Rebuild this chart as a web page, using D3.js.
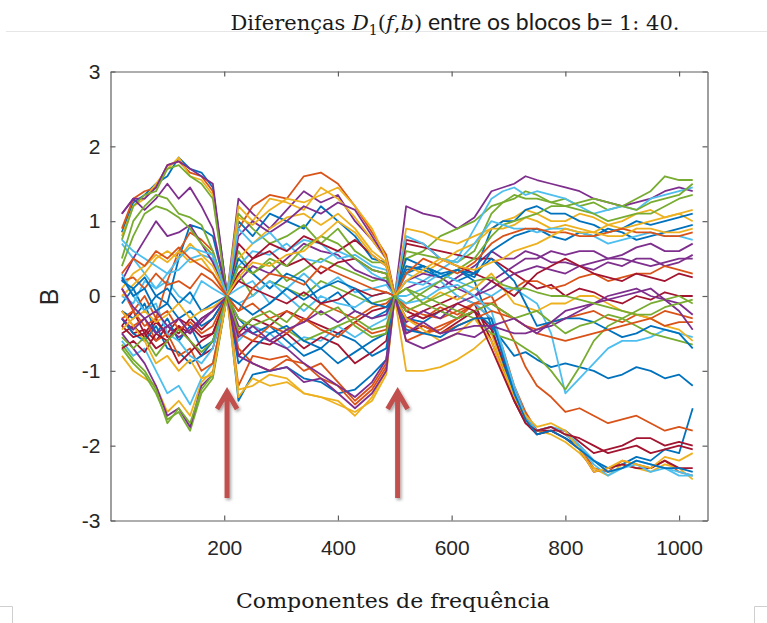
<!DOCTYPE html>
<meta charset="utf-8">
<style>
  body { margin: 0; background: #fff; }
  svg { display: block; }
  .axis text { font: 21px "Liberation Sans", Arial, sans-serif; fill: #262626; }
  .axis line, .axis path { stroke: #5e5e5e; stroke-width: 1.2; }
  .blk { fill: none; stroke-width: 1.8; stroke-linejoin: round; }
</style>
<svg width="767" height="623"></svg>
<script src="https://d3js.org/d3.v7.min.js"></script>
<script>
  // frequency components where the curves were read
  var freq = [20, 40, 60, 80, 100, 120, 140, 160, 180, 205,
              225, 250, 280, 310, 340, 370, 400, 430, 460, 485, 500,
              520, 550, 580, 610, 640,
              670, 690, 710, 730, 750, 775, 800, 825, 850, 875, 900, 925, 950, 975, 1000, 1024];

  // D1(f,b) for the blocks b = 1..40
  var b01 = [0.85,1.25,1.35,1.5,1.6,1.85,1.7,1.65,1.45, 0.02, -1.4,-1.05,-1.0,-0.95,-1.1,-1.15,-1.3,-1.25,-1.05,-0.85, 0.0, 0.3,0.4,0.25,0.35,0.2, -0.4,-0.9,-1.3,-1.65,-1.85,-1.8,-1.9,-2.0,-2.2,-2.3,-2.25,-2.15,-2.2,-2.05,-2.1,-1.5];
  var b02 = [0.9,1.3,1.4,1.45,1.75,1.8,1.65,1.6,1.4, 0.0, 0.9,1.2,1.35,1.3,1.6,1.65,1.5,1.2,0.85,0.55, 0.02, -0.2,-0.3,-0.15,-0.25,-0.1, -0.3,-0.7,-1.2,-1.55,-1.8,-1.75,-1.85,-2.0,-2.3,-2.35,-2.2,-2.25,-2.3,-2.2,-2.35,-2.4];
  var b03 = [0.8,1.2,1.3,1.5,1.7,1.85,1.6,1.55,1.35, -0.02, -1.35,-1.1,-1.2,-1.15,-1.3,-1.35,-1.4,-1.6,-1.35,-1.0, -0.02, -1.0,-1.0,-0.95,-0.85,-0.7, -0.5,-0.95,-1.35,-1.65,-1.8,-1.85,-1.95,-2.1,-2.3,-2.4,-2.25,-2.3,-2.35,-2.25,-2.3,-2.45];
  var b04 = [1.1,1.3,1.3,1.45,1.75,1.8,1.7,1.6,1.5, 0.01, 1.3,1.1,0.9,1.15,1.4,1.25,1.35,1.0,0.75,0.5, 0.0, 1.2,1.1,1.05,0.9,1.05, 1.4,1.45,1.5,1.6,1.55,1.5,1.45,1.4,1.3,1.25,1.2,1.25,1.3,1.4,1.45,1.4];
  var b05 = [0.75,1.2,1.35,1.4,1.7,1.75,1.6,1.5,1.3, 0.0, 0.6,0.3,0.45,0.2,0.35,0.5,0.4,0.3,0.2,0.25, 0.01, 0.5,0.6,0.8,0.9,1.0, 1.2,1.25,1.3,1.4,1.35,1.25,1.3,1.2,1.25,1.15,1.2,1.3,1.4,1.6,1.55,1.55];
  var b06 = [0.7,0.5,0.3,0.1,0.2,0.0,-0.1,0.2,0.1, -0.01, 0.4,0.6,0.55,0.7,0.5,0.45,0.6,0.5,0.3,0.2, 0.0, 0.3,0.2,0.35,0.5,0.9, 1.3,1.4,1.45,1.35,1.4,1.35,1.3,1.2,1.1,1.15,1.2,1.15,1.3,1.35,1.4,1.45];
  var b07 = [-0.3,-0.5,-0.45,-0.6,-0.4,-0.5,-0.3,-0.45,-0.3, 0.0, -0.5,-0.3,-0.4,-0.2,-0.3,-0.4,-0.5,-0.35,-0.2,-0.15, 0.0, -0.3,-0.2,-0.1,0.0,-0.1, -0.6,-1.0,-1.4,-1.7,-1.85,-1.8,-1.8,-1.95,-2.1,-2.05,-2.0,-1.9,-1.9,-2.0,-1.95,-2.0];
  var b08 = [-0.1,0.1,-0.2,0.0,-0.1,0.5,0.95,0.9,0.8, 0.02, 1.0,0.8,1.1,1.0,0.9,1.2,1.0,0.8,0.5,0.45, 0.0, -0.3,-0.35,-0.2,-0.3,-0.2, -0.4,-0.6,-0.8,-0.75,-0.85,-0.95,-0.9,-0.95,-1.0,-1.1,-1.05,-0.95,-1.0,-1.1,-1.05,-1.2];
  var b09 = [0.1,-0.2,0.0,-0.3,0.2,0.6,0.85,0.75,0.6, 0.0, -1.2,-0.8,-0.85,-0.8,-1.0,-0.9,-1.15,-1.4,-1.2,-0.9, 0.01, -0.4,-0.5,-0.4,-0.3,-0.1, 0.0,-0.3,-0.6,-0.95,-1.2,-1.35,-1.55,-1.5,-1.6,-1.7,-1.65,-1.6,-1.7,-1.8,-1.75,-1.8];
  var b10 = [0.1,0.3,0.4,0.55,0.45,0.6,0.45,0.5,0.3, 0.0, 1.2,1.0,1.3,1.25,1.15,1.45,1.3,1.05,0.75,0.5, 0.0, 0.9,0.85,0.75,0.7,0.8, 0.9,1.0,1.05,1.15,1.1,1.0,1.0,1.1,1.05,0.95,1.0,1.1,1.15,1.05,1.1,1.0];
  var b11 = [1.1,1.3,1.15,1.3,1.5,1.3,1.45,1.2,0.9, 0.01, 0.2,0.4,0.3,0.5,0.7,0.6,0.55,0.35,0.25,0.2, 0.0, 0.1,0.2,0.1,0.25,0.4, 0.6,0.5,0.5,0.6,0.55,0.45,0.45,0.4,0.35,0.45,0.4,0.5,0.5,0.4,0.45,0.55];
  var b12 = [0.5,1.0,1.2,1.35,1.3,1.1,1.05,0.95,0.6, 0.0, 1.1,0.9,0.7,0.8,0.95,0.7,0.9,0.6,0.45,0.45, -0.01, 0.6,0.55,0.5,0.45,0.6, 1.1,1.25,1.35,1.3,1.3,1.25,1.2,1.25,1.3,1.25,1.2,1.15,1.25,1.3,1.35,1.5];
  var b13 = [0.0,-0.1,0.2,0.1,0.3,0.35,0.5,0.55,0.5, 0.0, -0.6,-0.4,-0.5,-0.7,-0.55,-0.6,-0.4,-0.55,-0.4,-0.3, 0.0, 0.0,0.1,0.2,0.0,-0.1, -0.3,-0.75,-1.2,-1.6,-1.8,-1.75,-1.85,-2.0,-2.2,-2.35,-2.3,-2.2,-2.25,-2.3,-2.35,-2.4];
  var b14 = [-0.5,-0.4,-0.55,-0.35,-0.5,-0.3,-0.4,-0.55,-0.5, 0.0, 0.7,0.5,0.6,0.4,0.5,0.3,0.45,0.5,0.35,0.3, 0.0, 0.7,0.65,0.6,0.55,0.5, 0.5,0.4,0.3,0.2,0.1,0.15,0.0,0.1,0.05,-0.05,-0.1,0.0,-0.05,0.05,0.0,0.0];
  var b15 = [-0.2,-0.3,-0.1,-0.5,-0.3,-0.6,-0.4,-0.7,-0.6, 0.0, -0.3,-0.5,-0.4,-0.6,-0.8,-0.7,-0.9,-0.75,-0.6,-0.5, 0.0, 0.35,0.4,0.3,0.2,0.3, 0.9,1.0,1.0,1.15,1.2,1.1,1.1,1.0,0.95,0.85,0.9,1.0,0.95,1.0,1.05,1.1];
  var b16 = [0.2,0.25,0.1,0.3,0.15,0.2,0.1,0.3,0.2, 0.0, -0.2,-0.1,-0.3,-0.2,-0.35,-0.1,-0.2,-0.3,-0.15,-0.1, 0.01, -0.15,-0.25,-0.3,-0.2,-0.1, -0.1,0.0,0.1,0.2,0.2,0.1,0.15,0.25,0.3,0.2,0.25,0.3,0.3,0.4,0.35,0.3];
  var b17 = [-0.8,-1.0,-1.1,-1.2,-1.55,-1.4,-1.6,-1.15,-1.0, 0.0, 0.5,0.7,0.9,1.05,1.1,0.95,1.1,0.9,0.6,0.45, 0.0, 0.4,0.3,0.45,0.6,0.7, 0.9,0.9,0.95,1.05,1.0,0.9,0.95,0.9,0.85,0.95,0.9,0.95,1.0,1.05,1.1,1.15];
  var b18 = [0.2,0.5,0.75,1.0,0.8,0.85,0.95,0.7,0.45, 0.0, 0.8,1.0,0.85,1.0,1.2,1.1,1.25,1.15,0.8,0.5, 0.0, 0.2,0.3,0.25,0.1,0.0, 0.2,0.3,0.4,0.5,0.5,0.6,0.55,0.6,0.6,0.5,0.55,0.65,0.7,0.6,0.6,0.7];
  var b19 = [-0.7,-0.9,-1.05,-1.3,-1.65,-1.55,-1.8,-1.3,-1.1, 0.0, 0.3,0.0,0.2,0.1,0.0,0.2,0.1,0.0,-0.1,-0.05, 0.0, -0.1,0.05,0.2,0.35,0.5, 0.8,0.95,1.0,1.05,1.1,1.2,1.2,1.15,1.1,1.0,1.05,1.1,1.1,1.2,1.3,1.35];
  var b20 = [-0.6,-0.8,-0.7,-1.0,-1.3,-1.2,-1.45,-1.1,-0.9, 0.0, 0.1,0.2,-0.1,0.1,0.3,0.1,0.25,0.05,0.1,0.15, 0.0, 0.2,0.15,0.3,0.2,0.1, 0.0,0.1,0.1,0.0,-0.1,-0.5,-1.3,-1.1,-0.9,-0.7,-0.6,-0.6,-0.55,-0.45,-0.5,-0.55];
  var b21 = [-0.4,-0.2,-0.5,-0.3,-0.55,-0.4,-0.6,-0.8,-0.7, 0.0, -0.8,-0.6,-0.65,-0.5,-0.7,-0.55,-0.65,-0.9,-0.75,-0.6, 0.0, -0.5,-0.4,-0.5,-0.35,-0.2, -0.45,-0.85,-1.25,-1.6,-1.8,-1.8,-1.9,-2.05,-2.35,-2.3,-2.25,-2.3,-2.3,-2.2,-2.3,-2.3];
  var b22 = [-0.3,-0.5,-0.6,-0.4,-0.7,-0.75,-0.9,-0.8,-0.6, 0.0, 0.5,0.3,0.1,0.3,0.2,-0.1,0.05,-0.2,-0.3,-0.2, 0.0, 0.5,0.4,0.3,0.35,0.25, 0.6,0.7,0.8,0.85,0.9,0.8,0.75,0.85,0.8,0.9,0.85,0.75,0.8,0.85,0.9,0.95];
  var b23 = [-0.2,-0.4,-0.3,-0.6,-0.5,-0.8,-0.7,-1.0,-0.9, 0.0, -0.7,-0.9,-1.0,-0.85,-0.9,-1.1,-1.2,-1.45,-1.25,-0.95, 0.0, -0.6,-0.5,-0.45,-0.3,-0.2, -0.1,-0.2,-0.3,-0.4,-0.45,-0.35,-0.3,-0.25,-0.2,-0.3,-0.35,-0.25,-0.3,-0.2,-0.25,-0.3];
  var b24 = [0.0,0.15,0.3,0.5,0.6,0.5,0.7,0.55,0.4, 0.0, 1.05,0.95,1.15,1.3,1.25,1.35,1.45,1.2,0.9,0.5, 0.0, -0.2,-0.1,0.05,-0.05,0.1, 0.3,0.1,-0.1,-0.15,-0.2,-0.1,-0.1,0.0,0.0,-0.1,-0.2,-0.25,-0.3,-0.4,-0.45,-0.6];
  var b25 = [-0.5,-0.7,-0.9,-1.2,-1.6,-1.5,-1.75,-1.2,-1.05, 0.0, -0.4,-0.5,-0.6,-0.7,-0.9,-1.05,-1.2,-1.35,-1.15,-0.85, 0.0, -0.35,-0.2,-0.3,-0.1,0.0, 0.1,0.2,0.3,0.35,0.4,0.35,0.3,0.4,0.45,0.5,0.5,0.45,0.4,0.45,0.5,0.5];
  var b26 = [-0.65,-0.85,-1.0,-1.25,-1.7,-1.5,-1.7,-1.25,-1.05, 0.0, -0.3,-0.4,-0.3,-0.45,-0.6,-0.5,-0.4,-0.3,-0.45,-0.4, 0.0, 0.1,0.0,-0.1,-0.2,-0.3, -0.5,-0.55,-0.6,-0.7,-0.8,-1.0,-1.25,-0.95,-0.6,-0.4,-0.3,-0.4,-0.5,-0.55,-0.6,-0.65];
  var b27 = [0.3,0.0,-0.2,-0.1,-0.5,-0.6,-0.8,-0.9,-0.7, 0.0, 0.9,0.7,0.85,0.6,0.75,0.7,0.5,0.55,0.4,0.35, 0.0, -0.1,-0.05,0.1,0.15,0.0, -0.2,-0.7,-1.25,-1.6,-1.8,-1.75,-1.8,-2.0,-2.25,-2.4,-2.3,-2.25,-2.35,-2.3,-2.4,-2.4];
  var b28 = [-0.7,-0.6,-0.75,-0.5,-0.6,-0.4,-0.5,-0.3,-0.2, 0.0, 0.3,0.5,0.7,0.6,0.8,0.7,0.6,0.75,0.55,0.4, 0.0, 0.75,0.7,0.5,0.4,0.3, 0.2,0.1,0.0,0.15,0.3,0.4,0.5,0.4,0.3,0.25,0.2,0.3,0.25,0.2,0.3,0.25];
  var b29 = [0.25,0.0,0.1,-0.2,-0.1,-0.3,-0.2,-0.4,-0.3, 0.0, -0.9,-0.7,-0.5,-0.4,-0.6,-0.7,-0.5,-0.6,-0.8,-0.7, 0.0, 0.4,0.35,0.25,0.35,0.3, 0.5,0.35,0.2,-0.1,-0.4,-0.35,-0.3,-0.3,-0.35,-0.45,-0.55,-0.5,-0.4,-0.45,-0.5,-0.7];
  var b30 = [-0.3,-0.2,-0.4,-0.3,-0.2,-0.45,-0.35,-0.5,-0.4, 0.0, -0.5,-0.6,-0.4,-0.5,-0.3,-0.45,-0.55,-0.35,-0.5,-0.45, 0.0, -0.3,-0.4,-0.5,-0.4,-0.3, -0.2,-0.25,-0.3,-0.4,-0.5,-0.55,-0.6,-0.55,-0.5,-0.45,-0.4,-0.35,-0.3,-0.4,-0.35,-0.35];
  var b31 = [-0.2,-0.4,-0.6,-0.9,-0.8,-1.0,-0.85,-1.1,-1.05, 0.0, -1.25,-1.2,-1.05,-1.1,-1.3,-1.35,-1.45,-1.55,-1.4,-1.05, 0.0, -0.3,-0.45,-0.6,-0.5,-0.3, -0.6,-1.0,-1.35,-1.6,-1.75,-1.7,-1.8,-2.05,-2.35,-2.3,-2.2,-2.25,-2.3,-2.15,-2.2,-2.1];
  var b32 = [-0.3,-0.45,-0.3,-0.5,-0.4,-0.55,-0.45,-0.3,-0.2, 0.0, -0.8,-0.9,-1.0,-0.95,-1.15,-1.1,-1.3,-1.5,-1.3,-1.0, 0.0, -0.6,-0.7,-0.6,-0.5,-0.55, -0.4,-0.45,-0.5,-0.5,-0.45,-0.4,-0.3,-0.2,-0.1,0.0,0.05,0.1,0.0,-0.05,-0.1,-0.25];
  var b33 = [0.4,0.8,1.1,1.2,1.15,1.05,0.9,0.7,0.55, 0.0, 0.4,0.3,0.5,0.4,0.65,0.8,0.7,0.5,0.35,0.3, 0.0, 0.1,-0.1,-0.2,-0.3,-0.2, -0.1,-0.2,-0.3,-0.25,-0.2,-0.35,-0.5,-0.4,-0.35,-0.25,-0.3,-0.2,-0.1,-0.05,0.0,-0.1];
  var b34 = [0.75,0.6,0.5,0.4,0.3,0.5,0.65,0.6,0.55, 0.0, -0.1,0.0,0.2,0.0,-0.2,0.0,-0.1,-0.15,0.0,0.05, 0.0, 0.8,0.7,0.5,0.45,0.7, 1.0,0.95,0.9,0.9,0.85,0.9,0.9,0.85,0.8,0.7,0.75,0.8,0.85,0.8,0.8,0.75];
  var b35 = [-0.4,-0.55,-0.5,-0.7,-0.6,-0.9,-0.75,-0.6,-0.5, 0.0, 0.2,0.1,0.0,-0.1,0.05,-0.1,-0.05,0.1,0.0,0.05, 0.0, -0.2,-0.3,-0.2,-0.1,-0.2, -0.7,-1.05,-1.4,-1.7,-1.8,-1.75,-1.85,-1.9,-2.0,-2.1,-2.05,-2.0,-2.1,-2.05,-2.0,-2.05];
  var b36 = [0.2,0.1,0.25,0.0,0.1,-0.1,0.05,-0.2,-0.1, 0.0, -0.1,-0.25,-0.1,0.1,-0.05,0.1,0.2,0.1,-0.1,-0.15, 0.0, -0.45,-0.5,-0.55,-0.4,-0.3, -0.3,-0.8,-1.3,-1.65,-1.85,-1.8,-1.9,-2.05,-2.2,-2.35,-2.3,-2.2,-2.25,-2.3,-2.3,-2.35];
  var b37 = [0.3,0.5,0.4,0.6,0.5,0.65,0.5,0.4,0.3, 0.0, -0.2,0.1,0.3,0.25,0.15,0.4,0.3,0.2,0.1,0.05, 0.0, 0.3,0.5,0.4,0.3,0.45, 0.7,0.8,0.85,0.9,0.9,0.85,0.85,0.8,0.8,0.85,0.9,0.85,0.85,0.8,0.8,0.85];
  var b38 = [-0.45,-0.3,-0.2,-0.35,-0.25,-0.1,-0.3,-0.2,-0.15, 0.0, 0.25,0.45,0.4,0.55,0.6,0.8,1.0,0.85,0.55,0.4, 0.0, 0.2,0.35,0.5,0.4,0.35, 0.45,0.5,0.6,0.65,0.7,0.8,0.9,0.85,0.85,0.8,0.8,0.9,0.9,0.85,0.85,0.9];
  var b39 = [0.1,-0.15,-0.3,-0.2,-0.4,-0.3,-0.5,-0.35,-0.2, 0.0, -0.55,-0.4,-0.6,-0.45,-0.35,-0.2,-0.35,-0.2,-0.3,-0.25, 0.0, -0.5,-0.35,-0.5,-0.45,-0.4, -0.4,-0.35,-0.3,-0.4,-0.5,-0.35,-0.2,-0.15,-0.1,-0.05,0.0,0.05,0.1,-0.05,-0.2,-0.45];
  var b40 = [-0.55,-0.7,-0.55,-0.8,-0.6,-0.45,-0.6,-0.75,-0.6, 0.0, -0.45,-0.3,-0.2,-0.35,-0.1,-0.25,-0.15,-0.4,-0.55,-0.5, 0.0, -0.2,-0.1,0.0,0.1,0.2, 0.25,0.15,0.1,0.1,0.05,0.0,0.0,-0.05,-0.1,-0.15,-0.2,-0.25,-0.25,-0.15,-0.1,-0.05];

  var blocks = [b01, b02, b03, b04, b05, b06, b07, b08, b09, b10,
                b11, b12, b13, b14, b15, b16, b17, b18, b19, b20,
                b21, b22, b23, b24, b25, b26, b27, b28, b29, b30,
                b31, b32, b33, b34, b35, b36, b37, b38, b39, b40];

  var xTicks = [200, 400, 600, 800, 1000];
  var yTicks = [-3, -2, -1, 0, 1, 2, 3];
  var arrowAt = [205, 505];

  // matlab default line colour order
  var colors = ["#0072BD", "#D95319", "#EDB120", "#7E2F8E", "#77AC30", "#4DBEEE", "#A2142F"];

  var svg = d3.select("svg"),
    margin = { top: 71.5, right: 59.5, bottom: 102.5, left: 110.5 },
    width = +svg.attr("width") - margin.left - margin.right,
    height = +svg.attr("height") - margin.top - margin.bottom;

  var defs = svg.append("defs");
  var shadow = defs.append("filter").attr("id", "shadow")
    .attr("x", "-50%").attr("y", "-20%").attr("width", "200%").attr("height", "140%");
  shadow.append("feDropShadow")
    .attr("dx", 1.5).attr("dy", 2).attr("stdDeviation", 1.5)
    .attr("flood-color", "#000").attr("flood-opacity", 0.35);

  // page decorations (word layout marks)
  svg.append("line").attr("x1", 6).attr("x2", 767).attr("y1", 31.5).attr("y2", 31.5)
    .attr("stroke", "#e6e6e6").attr("stroke-width", 1);
  svg.append("path").attr("d", "M0,606.5H12.5V623").attr("fill", "none").attr("stroke", "#cfcfcf");
  svg.append("path").attr("d", "M767,606.5H754.5V623").attr("fill", "none").attr("stroke", "#cfcfcf");

  var x = d3.scaleLinear().domain([0, 1050]).range([0, width]),
    y = d3.scaleLinear().domain([-3, 3]).range([height, 0]);

  var g = svg.append("g")
    .attr("transform", "translate(" + margin.left + "," + margin.top + ")");

  var line = d3.line()
    .x(function(d, i) { return x(freq[i]); })
    .y(function(d) { return y(d); });

  g.selectAll(".blk")
    .data(blocks)
    .enter().append("path")
    .attr("class", "blk")
    .attr("stroke", function(d, i) { return colors[i % colors.length]; })
    .attr("d", line);

  // box with inward ticks on all four sides
  g.append("g").attr("class", "axis")
    .attr("transform", "translate(0," + height + ")")
    .call(d3.axisBottom(x).tickValues(xTicks).tickSize(-5).tickSizeOuter(0).tickPadding(20).tickFormat(d3.format("d")));
  g.append("g").attr("class", "axis")
    .call(d3.axisTop(x).tickValues(xTicks).tickSize(-5).tickSizeOuter(0).tickFormat(""));
  g.append("g").attr("class", "axis")
    .call(d3.axisLeft(y).tickValues(yTicks).tickSize(-5).tickSizeOuter(0).tickPadding(10)
      .tickFormat(function(d) { return d < 0 ? "-" + Math.abs(d) : d; }));
  g.append("g").attr("class", "axis")
    .attr("transform", "translate(" + width + ",0)")
    .call(d3.axisRight(y).tickValues(yTicks).tickSize(-5).tickSizeOuter(0).tickFormat(""));

  // red arrows pointing at the crossing points
  var arrows = svg.append("g").attr("filter", "url(#shadow)")
    .attr("fill", "none").attr("stroke", "#C0504D").attr("stroke-width", 5);
  arrowAt.forEach(function(f) {
    var ax = margin.left + x(f);
    arrows.append("path")
      .attr("d", "M" + ax + ",498V393M" + (ax - 10) + ",409L" + ax + ",392L" + (ax + 10) + ",409");
  });

  // labels
  svg.append("text")
    .attr("transform", "translate(58,297) rotate(-90)")
    .attr("text-anchor", "middle")
    .style("font", "25px 'Liberation Sans', Arial, sans-serif")
    .attr("fill", "#262626")
    .text("B");

  svg.append("text")
    .attr("x", 393).attr("y", 608)
    .attr("text-anchor", "middle")
    .attr("textLength", 314).attr("lengthAdjust", "spacingAndGlyphs")
    .style("font", "21px 'DejaVu Serif', serif")
    .attr("fill", "#1a1a1a")
    .text("Componentes de frequência");

  var title = svg.append("text")
    .attr("x", 455).attr("y", 30)
    .attr("text-anchor", "middle")
    .attr("fill", "#1a1a1a")
    .style("font-size", "21px")
    .style("font-family", "'DejaVu Serif', serif");
  title.append("tspan").text("Diferenças ");
  title.append("tspan").style("font-style", "italic").text("D");
  title.append("tspan").attr("dy", 5).style("font-size", "14px").text("1");
  title.append("tspan").attr("dy", -5).text("(");
  title.append("tspan").style("font-style", "italic").text("f");
  title.append("tspan").text(",");
  title.append("tspan").style("font-style", "italic").text("b");
  title.append("tspan").text(")");
  title.append("tspan").style("font-family", "Lato, 'Open Sans', sans-serif").style("font-size", "23px").text(" entre os blocos b= ");
  title.append("tspan").text("1: 40.");
</script>
